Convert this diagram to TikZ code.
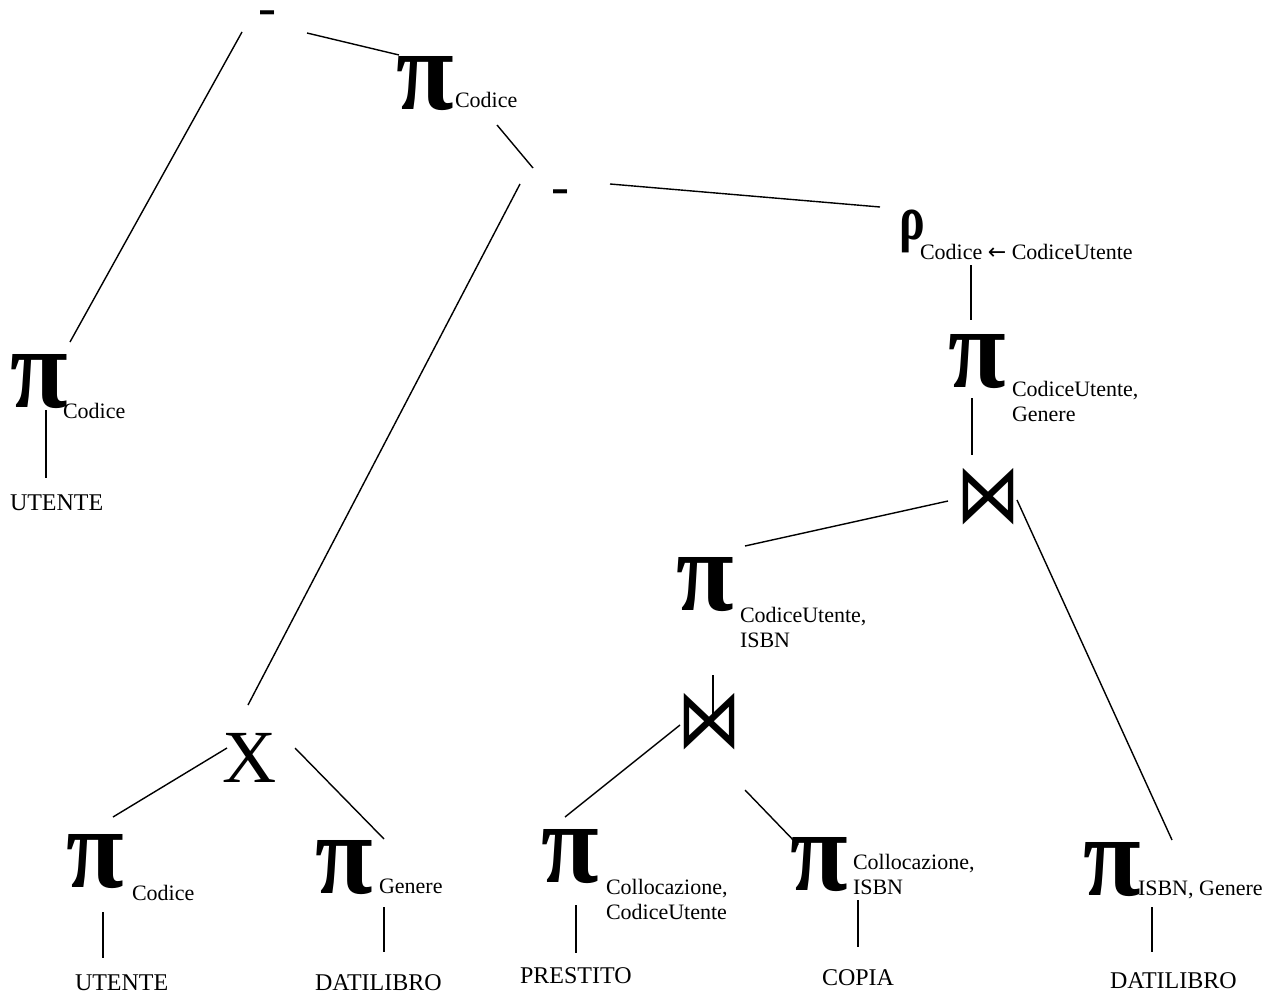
\documentclass[tikz,border=0pt]{standalone}
\usepackage{fontspec}
\setmainfont{Liberation Serif}
\newfontfamily\symfont{DejaVu Sans}
\newcommand{\bigpi}{\scalebox{1}[1.1]{π}}
\newcommand{\joinsym}{\scalebox{0.8}[1.03]{⋈}}
\begin{document}
\begin{tikzpicture}[x=1pt,y=-1pt,
  op/.style={inner sep=0, outer sep=0, anchor=base west, font=\fontsize{105}{105}\selectfont\bfseries},
  minus/.style={inner sep=0, outer sep=0, anchor=base west, text height=20pt, font=\fontsize{54}{54}\selectfont},
  subl/.style={inner sep=0, outer sep=0, anchor=base west, align=left, font=\fontsize{22}{24.5}\selectfont},
  rel/.style={inner sep=0, outer sep=0, anchor=base west, font=\fontsize{24}{24}\selectfont},
  bowtie/.style={inner sep=0, outer sep=0, anchor=base west, font=\fontsize{80}{80}\selectfont\symfont},
  edge/.style={line width=1.4pt}]
\fill[white] (0,0) rectangle (1274,995);
\useasboundingbox (0,0) rectangle (1274,995);

% operators
\node[minus] (m1) at (258,26) {-};
\node[op] (p1) at (396,110) {\bigpi};
\node[subl] (p1s) at (455,108) {Codice};
\node[minus] (m2) at (551,205) {-};
\node[inner sep=0, anchor=base west, font=\fontsize{60}{60}\selectfont\bfseries] (rho) at (899,240) {\scalebox{0.8}[1.05]{ρ}};
\node[subl] (rhos) at (920,259) {Codice {\symfont ←} CodiceUtente};
\node[op] (p0) at (10,407) {\bigpi};
\node[subl] (p0s) at (63,418) {Codice};
\node[rel] (r0) at (10,510) {UTENTE};
\node[op] (p2) at (948,387) {\bigpi};
\node[subl] (p2s) at (1012,421) {CodiceUtente,\\Genere};
\node[bowtie] (j1) at (956,522) {\joinsym};
\node[op] (p3) at (676,610) {\bigpi};
\node[subl] (p3s) at (740,647) {CodiceUtente,\\ISBN};
\node[bowtie] (j2) at (677,747) {\joinsym};
\node[inner sep=0, anchor=base west, font=\fontsize{75}{75}\selectfont] (x) at (222,782) {X};
\node[op] (p6) at (66,887) {\bigpi};
\node[subl] (p6s) at (132,900) {Codice};
\node[op] (p7) at (315,893) {\bigpi};
\node[subl] (p7s) at (379,893) {Genere};
\node[op] (p4) at (541,882) {\bigpi};
\node[subl] (p4s) at (606,919) {Collocazione,\\CodiceUtente};
\node[op] (p5) at (790,890) {\bigpi};
\node[subl] (p5s) at (853,894) {Collocazione,\\ISBN};
\node[op] (p8) at (1083,895) {\bigpi};
\node[subl] (p8s) at (1138,895) {ISBN, Genere};
\node[rel] (r1) at (75,990) {UTENTE};
\node[rel] (r2) at (315,990) {DATILIBRO};
\node[rel] (r3) at (520,983) {PRESTITO};
\node[rel] (r4) at (822,985) {COPIA};
\node[rel] (r5) at (1110,988) {DATILIBRO};

% connector end points
\coordinate (a1) at (242,32);   \coordinate (b1) at (70,342);
\coordinate (a2) at (307,33);   \coordinate (b2) at (399,55);
\coordinate (a3) at (497,125);  \coordinate (b3) at (533,168);
\coordinate (a4) at (520,184);  \coordinate (b4) at (248,705);
\coordinate (a5) at (610,184);  \coordinate (b5) at (880,207);
\coordinate (a6) at (971,265);  \coordinate (b6) at (971,320);
\coordinate (a7) at (972,398);  \coordinate (b7) at (972,455);
\coordinate (a8) at (948,501);  \coordinate (b8) at (745,546);
\coordinate (a9) at (1017,500); \coordinate (b9) at (1172,840);
\coordinate (a10) at (713,675); \coordinate (b10) at (713,720);
\coordinate (a11) at (680,725); \coordinate (b11) at (565,817);
\coordinate (a12) at (745,790); \coordinate (b12) at (798,845);
\coordinate (a13) at (227,748); \coordinate (b13) at (113,817);
\coordinate (a14) at (295,748); \coordinate (b14) at (384,839);
\coordinate (a15) at (46,410);  \coordinate (b15) at (46,478);
\coordinate (a16) at (103,912); \coordinate (b16) at (103,958);
\coordinate (a17) at (384,907); \coordinate (b17) at (384,952);
\coordinate (a18) at (576,905); \coordinate (b18) at (576,953);
\coordinate (a19) at (858,900); \coordinate (b19) at (858,947);
\coordinate (a20) at (1152,907);\coordinate (b20) at (1152,952);

\foreach \i in {1,...,20} \draw[edge] (a\i) -- (b\i);
\end{tikzpicture}
\end{document}
